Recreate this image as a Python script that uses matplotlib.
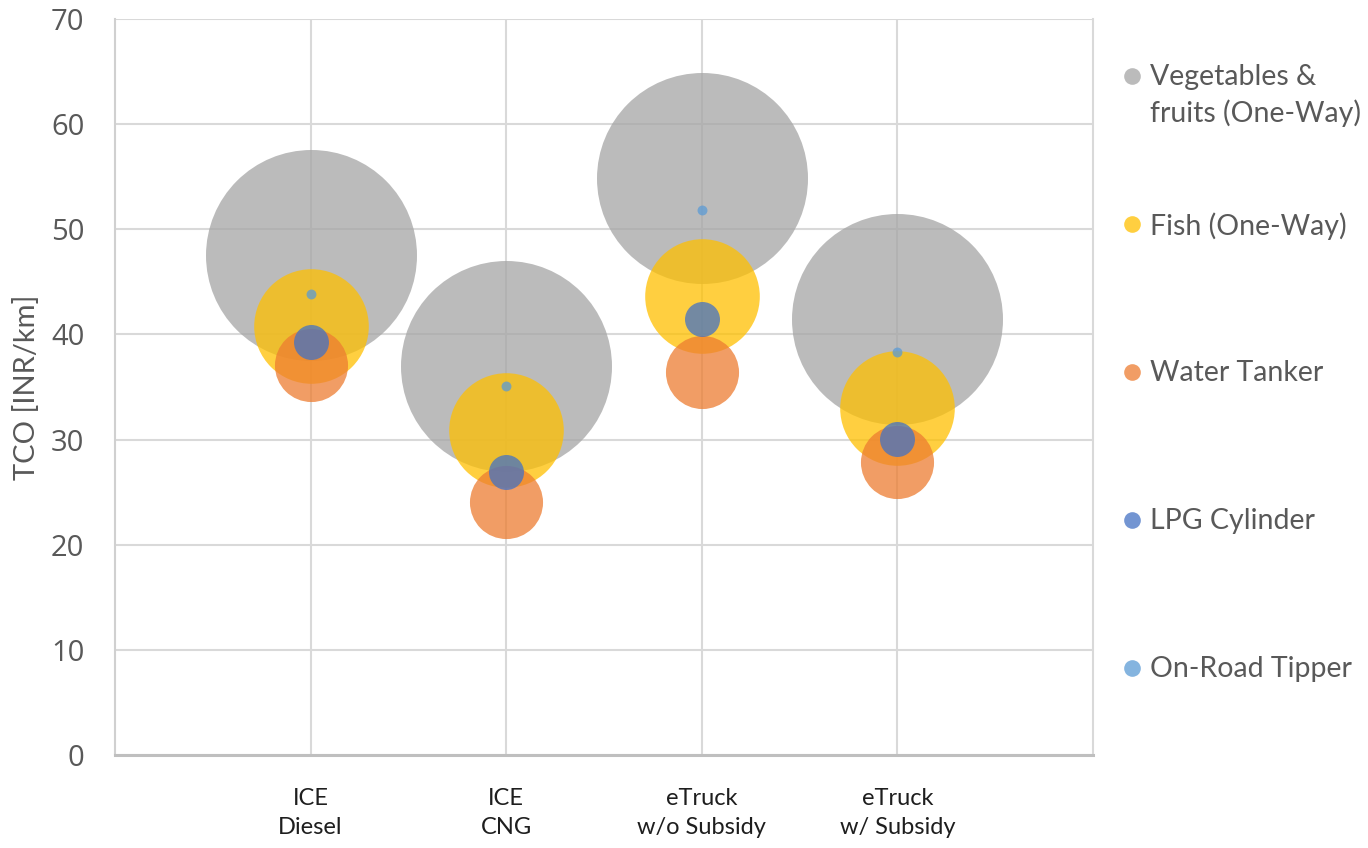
import matplotlib.pyplot as plt
import matplotlib.transforms as mtransforms

# powertrain options on the x axis
categories = ["ICE\nDiesel", "ICE\nCNG", "eTruck\nw/o Subsidy", "eTruck\nw/ Subsidy"]

# TCO [INR/km] per use case
veg_fruits = [47.6, 37.0, 54.9, 41.5]
fish = [40.8, 30.9, 43.7, 33.0]
water_tanker = [37.1, 24.1, 36.4, 27.9]
lpg_cylinder = [39.3, 26.9, 41.5, 30.1]
onroad_tipper = [43.8, 35.1, 51.8, 38.3]

# relative bubble size of each use case (area)
bubble_size = [100, 29.5, 12.0, 2.75, 0.22]

series_names = ["Vegetables &\nfruits (One-Way)", "Fish (One-Way)", "Water Tanker",
                "LPG Cylinder", "On-Road Tipper"]
series_values = [veg_fruits, fish, water_tanker, lpg_cylinder, onroad_tipper]
colors = ["#A5A5A5", "#FFC000", "#ED7D31", "#4472C4", "#5B9BD5"]

TEXT_GREY = "#595959"


def main():
    fig = plt.figure(figsize=(13.68, 8.48), dpi=100)
    ax = fig.add_axes([115 / 1368, 1 - 755 / 848, 978 / 1368, 736 / 848])

    x = list(range(1, len(categories) + 1))
    for vals, size, col in zip(series_values, bubble_size, colors):
        ax.scatter(x, vals, s=size * 230.8, color=col, alpha=0.75,
                   linewidths=0, zorder=2)

    ax.set_xlim(0, 5)
    ax.set_ylim(0, 70)
    ax.set_yticks(range(0, 71, 10))
    ax.set_xticks(x)
    ax.set_xticklabels(categories, family="Lato", fontsize=17,
                       color="#1E1E1E", linespacing=1.45)
    # labels sit at slightly different heights in the original
    nudge = [0, -6, -3, -6]
    for lab, dy in zip(ax.get_xticklabels(), nudge):
        lab.set_transform(lab.get_transform() +
                          mtransforms.ScaledTranslation(0, dy / 100, fig.dpi_scale_trans))

    ax.tick_params(axis="x", length=0, pad=24)
    ax.tick_params(axis="y", length=0, pad=22, labelsize=21, labelcolor=TEXT_GREY)
    for lab in ax.get_yticklabels():
        lab.set_family("Open Sans")

    ax.grid(True, color="#D9D9D9", linewidth=1.5, zorder=0)
    ax.set_axisbelow(True)
    ax.spines["top"].set_visible(False)
    ax.spines["right"].set_color("#D9D9D9")
    ax.spines["right"].set_linewidth(1.5)
    ax.spines["left"].set_color("#D0D0D0")
    ax.spines["left"].set_linewidth(1.5)
    ax.spines["bottom"].set_color("#BFBFBF")
    ax.spines["bottom"].set_linewidth(2.2)

    ax.set_ylabel("TCO [INR/km]", fontsize=21, color=TEXT_GREY, family="Lato")
    ax.yaxis.set_label_coords(-0.077, 0.5)

    # legend drawn by hand so the two-line entry lines up on its first row
    first_y = 76
    step = 148
    for i, (name, col) in enumerate(zip(series_names, colors)):
        ypx = first_y + i * step
        yf = 1 - ypx / 848
        fig.add_artist(plt.Line2D([1132 / 1368], [yf], marker="o", markersize=12,
                                  color=col, alpha=0.75, markeredgewidth=0,
                                  linestyle="none", transform=fig.transFigure))
        fig.text(1150 / 1368, 1 - (ypx - 12) / 848, name, fontsize=20.5, color=TEXT_GREY,
                 family="Lato", va="top", ha="left", linespacing=1.4)

    fig.savefig("out.png", dpi=100)


if __name__ == "__main__":
    main()
